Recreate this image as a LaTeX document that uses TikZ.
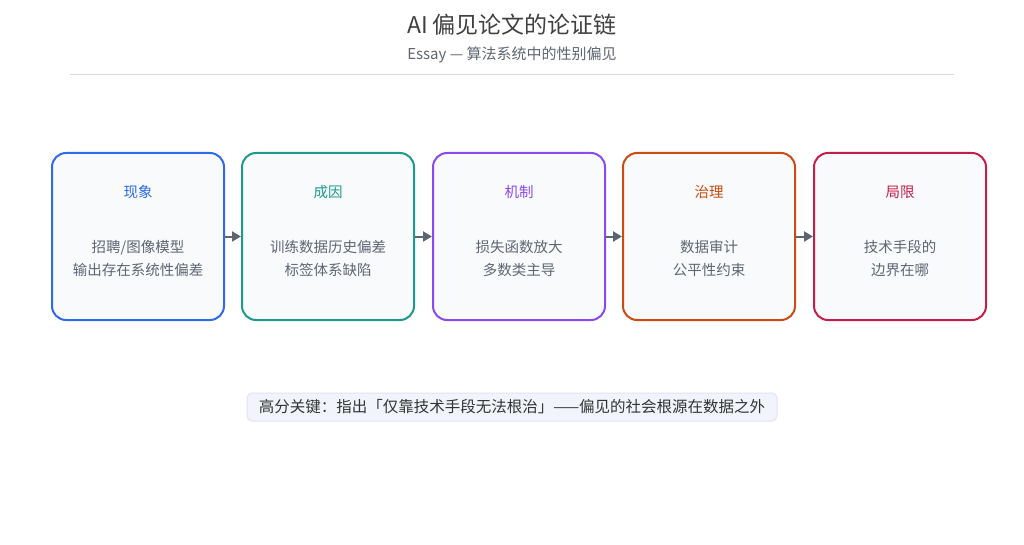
\documentclass[tikz,border=0pt]{standalone}
\usepackage{fontspec}
\setmainfont{Noto Sans CJK SC}
\usetikzlibrary{arrows.meta}
\definecolor{cA}{HTML}{2F6BE8}
\definecolor{cB}{HTML}{1E9A8A}
\definecolor{cC}{HTML}{8A4AF0}
\definecolor{cD}{HTML}{CC4B12}
\definecolor{cE}{HTML}{C41E4A}
\definecolor{txt}{HTML}{5F6672}
\definecolor{arr}{HTML}{5B6573}
\definecolor{boxfill}{HTML}{F8FAFC}
\definecolor{keyfill}{HTML}{F1F5FB}
\tikzset{
  step/.style={draw=#1, line width=2pt, rounded corners=14pt, fill=boxfill,
    minimum width=172pt, minimum height=167pt, anchor=north west},
  head/.style={font=\fontsize{14.5}{16}\selectfont},
  body/.style={text=txt, align=center, font=\fontsize{14.5}{23}\selectfont},
  link/.style={-{Triangle[length=9pt,width=10pt]}, arr, line width=2pt},
}
\begin{document}
\begin{tikzpicture}[x=1pt,y=-1pt]
            \useasboundingbox (0,0) rectangle (1024,545);
            \node[text=black!75, font=\fontsize{23}{28}\selectfont] (title) at (512,25) {AI 偏见论文的论证链};
            \node[text=txt, font=\fontsize{15}{18}\selectfont] (sub) at (512,55) {Essay — 算法系统中的性别偏见};
            \draw[black!15, line width=1pt] (70,75) -- (954,75);
            % the five steps
            \foreach \n/\x/\c/\h/\a/\b in {1/51/cA/现象/{招聘/图像模型}/输出存在系统性偏差,
                                          2/241/cB/成因/训练数据历史偏差/标签体系缺陷,
                                          3/432/cC/机制/损失函数放大/多数类主导,
                                          4/622/cD/治理/数据审计/公平性约束,
                                          5/813/cE/局限/技术手段的/边界在哪} {
                \node[step=\c] (s\n) at (\x,152) {};
                \node[head, text=\c] (h\n) at ([yshift=-40pt]s\n.north) {\h};
                \node[body] (b\n) at ([yshift=-22pt]s\n.center) {\a\\\b};
            }
            \foreach \i/\j in {1/2, 2/3, 3/4, 4/5}
                \draw[link] (s\i.east) -- (s\j.west);
            \node[draw=blue!12, fill=keyfill, rounded corners=5pt, line width=1pt,
                  minimum width=530pt, minimum height=28pt, text=black!80,
                  font=\fontsize{15.5}{16}\selectfont] (key) at (512,407)
                  {高分关键：指出「仅靠技术手段无法根治」——偏见的社会根源在数据之外};
        \end{tikzpicture}
\end{document}
